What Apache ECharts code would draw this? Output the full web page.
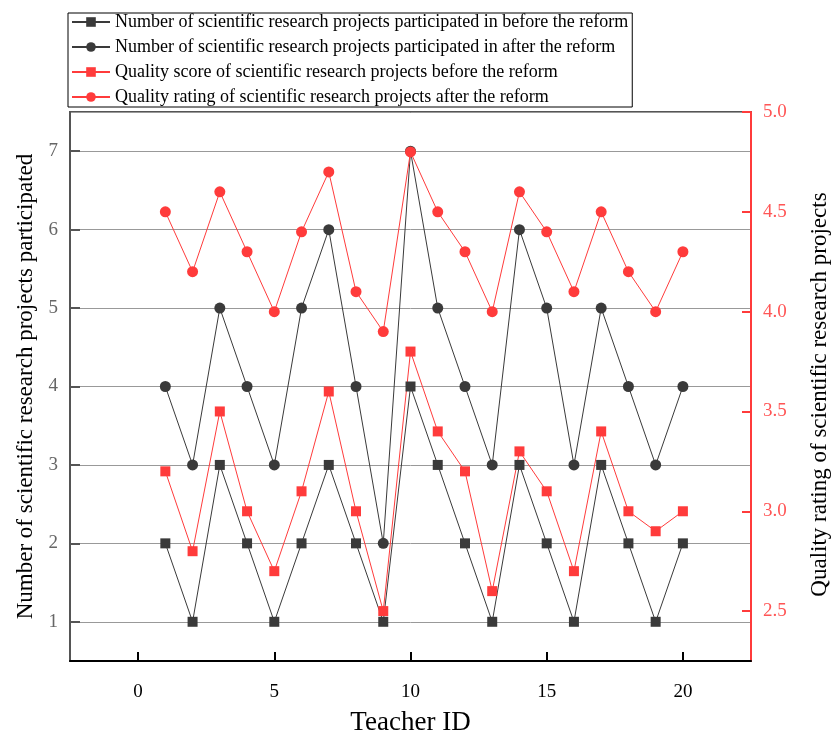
<!DOCTYPE html>
<html>
<head>
<meta charset="utf-8">
<script src="https://cdn.jsdelivr.net/npm/echarts@6/dist/echarts.min.js"></script>
<style>html,body{margin:0;padding:0;background:#fff;overflow:hidden}#c{width:831px;height:733px}</style>
</head>
<body>
<div id="c"></div>
<script>
var teacherIds = [1,2,3,4,5,6,7,8,9,10,11,12,13,14,15,16,17,18,19,20];
var countBefore = [2,1,3,2,1,2,3,2,1,4,3,2,1,3,2,1,3,2,1,2];
var countAfter = [4,3,5,4,3,5,6,4,2,7,5,4,3,6,5,3,5,4,3,4];
var qualityBefore = [3.2,2.8,3.5,3.0,2.7,3.1,3.6,3.0,2.5,3.8,3.4,3.2,2.6,3.3,3.1,2.7,3.4,3.0,2.9,3.0];
var qualityAfter = [4.5,4.2,4.6,4.3,4.0,4.4,4.7,4.1,3.9,4.8,4.5,4.3,4.0,4.6,4.4,4.1,4.5,4.2,4.0,4.3];
var seriesNames = [
  'Number of scientific research projects participated in before the reform',
  'Number of scientific research projects participated in after the reform',
  'Quality score of scientific research projects before the reform',
  'Quality rating of scientific research projects after the reform'
];

function pairs(vals){ return teacherIds.map(function(id,i){ return [id, vals[i]]; }); }

var FONT = 'Liberation Serif';
var BLACK = '#3a3a3a';
var RED = '#ff3b3b';

var chart = echarts.init(document.getElementById('c'), null, {renderer:'canvas', width: 831, height: 733});
chart.setOption({
  animation: false,
  backgroundColor: '#fff',
  textStyle: {fontFamily: FONT},
  grid: {left: 70, top: 112, width: 681, height: 549, show: true, borderColor: '#555', borderWidth: 2,
    containLabel: false, outerBoundsMode: 'none'},
  legend: {
    orient: 'vertical', left: 68, top: 13,
    backgroundColor: '#fff',
    borderColor: '#000', borderWidth: 1,
    padding: [0, 4, 1, 3],
    itemWidth: 38, itemHeight: 12, itemGap: 7,
    textStyle: {fontFamily: FONT, fontSize: 18, color: '#000'},
    data: seriesNames
  },
  xAxis: {
    type: 'value', min: -2.5, max: 22.5, splitNumber: 5,
    name: 'Teacher ID', nameLocation: 'middle', nameGap: 48,
    nameTextStyle: {fontFamily: FONT, fontSize: 27, color: '#000'},
    axisLine: {show: true, onZero: false, lineStyle: {color: '#000', width: 2}},
    axisTick: {show: true, inside: true, length: 9, lineStyle: {color: '#000', width: 2}},
    axisLabel: {fontFamily: FONT, fontSize: 19, color: '#000', margin: 22, showMinLabel: false, showMaxLabel: false},
    splitLine: {show: false}
  },
  yAxis: [{
    type: 'value', position: 'left', min: 0.5, max: 7.5, splitNumber: 7,
    name: 'Number of scientific research projects participated', nameLocation: 'middle', nameGap: 33,
    nameTextStyle: {fontFamily: FONT, fontSize: 23, color: '#000'},
    axisLine: {show: true, onZero: false, lineStyle: {color: '#555', width: 2}},
    axisTick: {show: true, inside: true, length: 10, lineStyle: {color: '#555', width: 2}},
    axisLabel: {fontFamily: FONT, fontSize: 19, color: '#666', margin: 12, showMinLabel: false, showMaxLabel: false},
    splitLine: {show: true, lineStyle: {color: '#999', width: 1}}
  }, {
    type: 'value', position: 'right', min: 2.25, max: 5.0, splitNumber: 5,
    name: 'Quality rating of scientific research projects', nameLocation: 'middle', nameGap: 57,
    nameTextStyle: {fontFamily: FONT, fontSize: 23, color: '#000', padding: [0, 16, 0, 0]},
    axisLine: {show: true, onZero: false, lineStyle: {color: RED, width: 2}},
    axisTick: {show: true, inside: true, length: 9, lineStyle: {color: RED, width: 2}},
    axisLabel: {fontFamily: FONT, fontSize: 19, color: '#ff5555', margin: 12, showMinLabel: false,
      formatter: function(v){ return v.toFixed(1); }},
    splitLine: {show: false}
  }],
  series: [{
    name: seriesNames[0], type: 'line', yAxisIndex: 0, data: pairs(countBefore),
    symbol: 'rect', symbolSize: 10,
    lineStyle: {color: BLACK, width: 1}, itemStyle: {color: BLACK}
  }, {
    name: seriesNames[1], type: 'line', yAxisIndex: 0, data: pairs(countAfter),
    symbol: 'circle', symbolSize: 11,
    lineStyle: {color: BLACK, width: 1}, itemStyle: {color: BLACK}
  }, {
    name: seriesNames[2], type: 'line', yAxisIndex: 1, data: pairs(qualityBefore),
    symbol: 'rect', symbolSize: 10,
    lineStyle: {color: RED, width: 1}, itemStyle: {color: RED}
  }, {
    name: seriesNames[3], type: 'line', yAxisIndex: 1, data: pairs(qualityAfter),
    symbol: 'circle', symbolSize: 11,
    lineStyle: {color: RED, width: 1}, itemStyle: {color: RED}
  }]
});
</script>
</body>
</html>
